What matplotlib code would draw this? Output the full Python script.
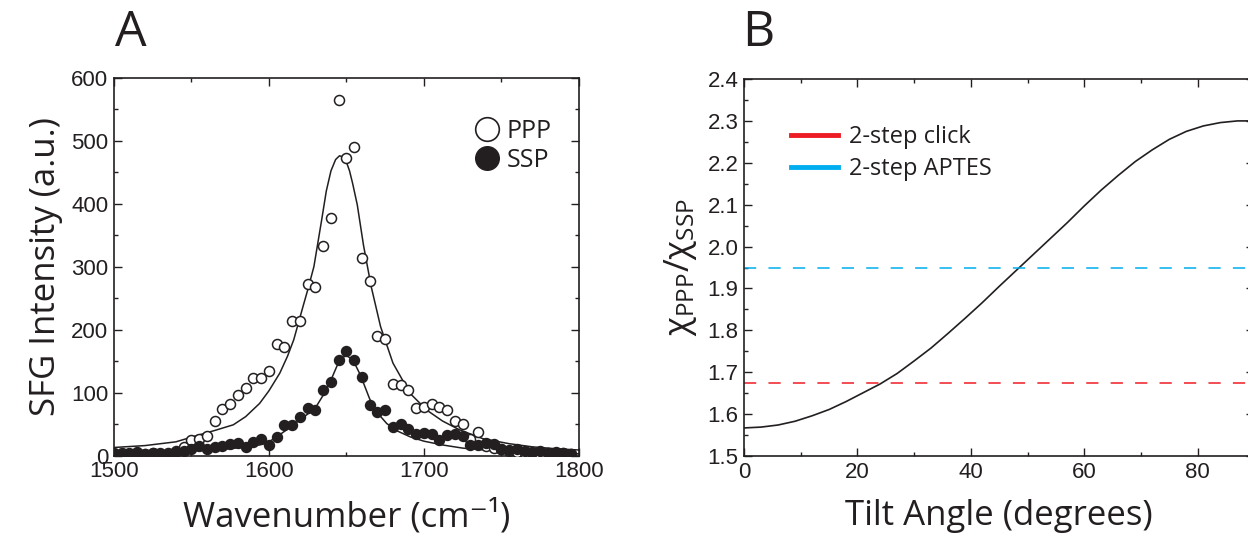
import matplotlib
matplotlib.use("Agg")
import matplotlib.pyplot as plt
from matplotlib.lines import Line2D
from matplotlib.ticker import MultipleLocator, FormatStrFormatter

# ---- panel A data ----
wn = list(range(1500, 1800, 5))
ppp = [3, 4, 2, 5, 3, 4, 2, 5, 8, 13, 25, 26, 32, 55, 74, 82, 96, 108, 124, 123,
       135, 177, 172, 214, 214, 272, 268, 333, 377, 564, 473, 490, 313, 277, 190, 185,
       113, 112, 104, 76, 78, 82, 78, 72, 55, 51, 27, 38, 15, 12, 10, 8, 6, 5, 4, 3,
       4, 3, 5, 2]
ssp = [5, 3, 4, 6, 3, 4, 5, 3, 6, 8, 11, 16, 11, 13, 16, 18, 20, 13, 22, 26,
       17, 29, 48, 49, 61, 76, 72, 105, 117, 152, 166, 152, 125, 81, 70, 73,
       46, 50, 43, 35, 36, 35, 25, 33, 35, 31, 17, 17, 20, 18, 10, 9, 11, 8, 6, 7,
       5, 6, 4, 3]

# fitted curves
ppp_fit_x = [1500, 1520, 1540, 1555, 1565, 1577, 1585, 1594, 1600, 1607, 1612, 1616,
             1622, 1625, 1629, 1634, 1637, 1640, 1643, 1645.5, 1648, 1650, 1652, 1654,
             1657, 1661, 1666, 1672, 1680, 1691, 1702, 1712, 1723, 1738, 1755, 1770,
             1785, 1800]
ppp_fit_y = [13, 16, 22, 33, 40, 49, 62, 83, 103, 131, 158, 184,
             237, 263, 300, 374, 420, 452, 470, 476, 474, 466, 452, 432,
             398, 334, 268, 205, 147, 99, 72, 55, 41, 27, 19, 14,
             11, 9]
ssp_fit_x = [1500, 1530, 1555, 1575, 1585, 1594, 1600, 1605, 1612, 1620, 1625, 1631,
             1636, 1640, 1644, 1647, 1650, 1653, 1656, 1659, 1665, 1670, 1676, 1683,
             1691, 1700, 1712, 1725, 1740, 1760, 1780, 1800]
ssp_fit_y = [3, 5, 8, 11, 14, 17, 22, 30, 42, 57, 66, 80,
             100, 120, 143, 155, 159, 154, 143, 128, 90, 68, 51, 39,
             30, 23, 17, 12, 9, 6, 4, 3]

# ---- panel B data ----
tilt = [0, 3, 6, 9, 12, 15, 18, 21, 24, 27, 30, 33, 36, 39, 42, 45, 48, 51, 54,
        57, 60, 63, 66, 69, 72, 75, 78, 81, 84, 87, 90]
ratio = [1.567, 1.569, 1.574, 1.583, 1.596, 1.611, 1.630, 1.651, 1.672, 1.697,
         1.727, 1.758, 1.793, 1.829, 1.866, 1.905, 1.943, 1.981, 2.019, 2.057,
         2.097, 2.135, 2.170, 2.203, 2.231, 2.256, 2.275, 2.288, 2.296, 2.300, 2.300]
click_val = 1.675
aptes_val = 1.95

label_font = "Open Sans"
tick_font = "Liberation Sans"
red = "#ED1C24"
blue = "#00AEEF"
ink = "#231f20"

plt.rcParams["mathtext.fontset"] = "custom"
plt.rcParams["mathtext.rm"] = label_font
plt.rcParams["mathtext.it"] = label_font
plt.rcParams["mathtext.bf"] = label_font

fig = plt.figure(figsize=(12.48, 5.45), dpi=100)
axA = fig.add_axes([0.0913, 0.1639, 0.3726, 0.6936])
axB = fig.add_axes([0.5962, 0.1633, 0.4089, 0.6917])


def style_axes(ax):
    ax.tick_params(which="both", direction="in", top=True, right=True, width=1.0,
                   labelsize=16, pad=4, colors=ink)
    ax.tick_params(which="major", length=6)
    ax.tick_params(which="minor", length=3)
    for lbl in ax.get_xticklabels() + ax.get_yticklabels():
        lbl.set_fontfamily(tick_font)
    for sp in ax.spines.values():
        sp.set_linewidth(1.2)
        sp.set_color(ink)


# panel A
axA.plot(ppp_fit_x, ppp_fit_y, color=ink, lw=1.1)
axA.plot(ssp_fit_x, ssp_fit_y, color=ink, lw=1.1)
axA.plot(wn, ppp, "o", ms=7.2, mfc="white", mec=ink, mew=1.1, zorder=3)
axA.plot(wn, ssp, "o", ms=7.2, mfc=ink, mec=ink, mew=1.0, zorder=4)
axA.set_xlim(1500, 1800)
axA.set_ylim(0, 600)
axA.xaxis.set_major_locator(MultipleLocator(100))
axA.xaxis.set_minor_locator(MultipleLocator(50))
axA.yaxis.set_major_locator(MultipleLocator(100))
axA.yaxis.set_minor_locator(MultipleLocator(50))
style_axes(axA)
axA.set_xlabel("Wavenumber (cm\u207b\u00b9)", family=[label_font, "DejaVu Sans"],
               fontsize=25, labelpad=12, color=ink)
axA.set_ylabel("SFG Intensity (a.u.)", family=label_font, fontsize=25, labelpad=6,
               color=ink)
hA = [Line2D([], [], ls="none", marker="o", ms=17, mfc="white", mec=ink, mew=1.2),
      Line2D([], [], ls="none", marker="o", ms=17, mfc=ink, mec=ink)]
axA.legend(hA, ["PPP", "SSP"], loc="upper right", frameon=False,
           prop={"family": label_font, "size": 18}, handletextpad=0.2,
           labelspacing=0.15, bbox_to_anchor=(0.99, 0.95), handlelength=1.2,
           labelcolor=ink)
fig.text(131 / 1248, 1 - 33 / 545, "A", family=label_font, fontsize=36,
         ha="center", va="center", color=ink)

# panel B
axB.plot(tilt, ratio, color=ink, lw=1.2)
axB.hlines(click_val, 0, 90, colors=red, lw=1.1, linestyles=(0, (8, 8)))
axB.hlines(aptes_val, 0, 90, colors=blue, lw=1.1, linestyles=(0, (8, 8)))
axB.set_xlim(0, 90)
axB.set_ylim(1.5, 2.4)
axB.xaxis.set_major_locator(MultipleLocator(20))
axB.xaxis.set_minor_locator(MultipleLocator(10))
axB.yaxis.set_major_locator(MultipleLocator(0.1))
axB.yaxis.set_minor_locator(MultipleLocator(0.05))
axB.yaxis.set_major_formatter(FormatStrFormatter("%.1f"))
style_axes(axB)
axB.set_xlabel("Tilt Angle (degrees)", family=label_font, fontsize=25, labelpad=12,
               color=ink)
axB.set_ylabel(r"$\chi_{\mathrm{PPP}}/\chi_{\mathrm{SSP}}$", fontsize=25, labelpad=6,
               color=ink)
hB = [Line2D([], [], color=red, lw=3.5), Line2D([], [], color=blue, lw=3.5)]
axB.legend(hB, ["2-step click", "2-step APTES"], loc="upper left", frameon=False,
           prop={"family": label_font, "size": 17}, handlelength=2.0,
           handletextpad=0.45, labelspacing=0.35, bbox_to_anchor=(0.05, 0.935),
           labelcolor=ink)
fig.text(758 / 1248, 1 - 33 / 545, "B", family=label_font, fontsize=36,
         ha="center", va="center", color=ink)

fig.savefig("out.png", dpi=100)
